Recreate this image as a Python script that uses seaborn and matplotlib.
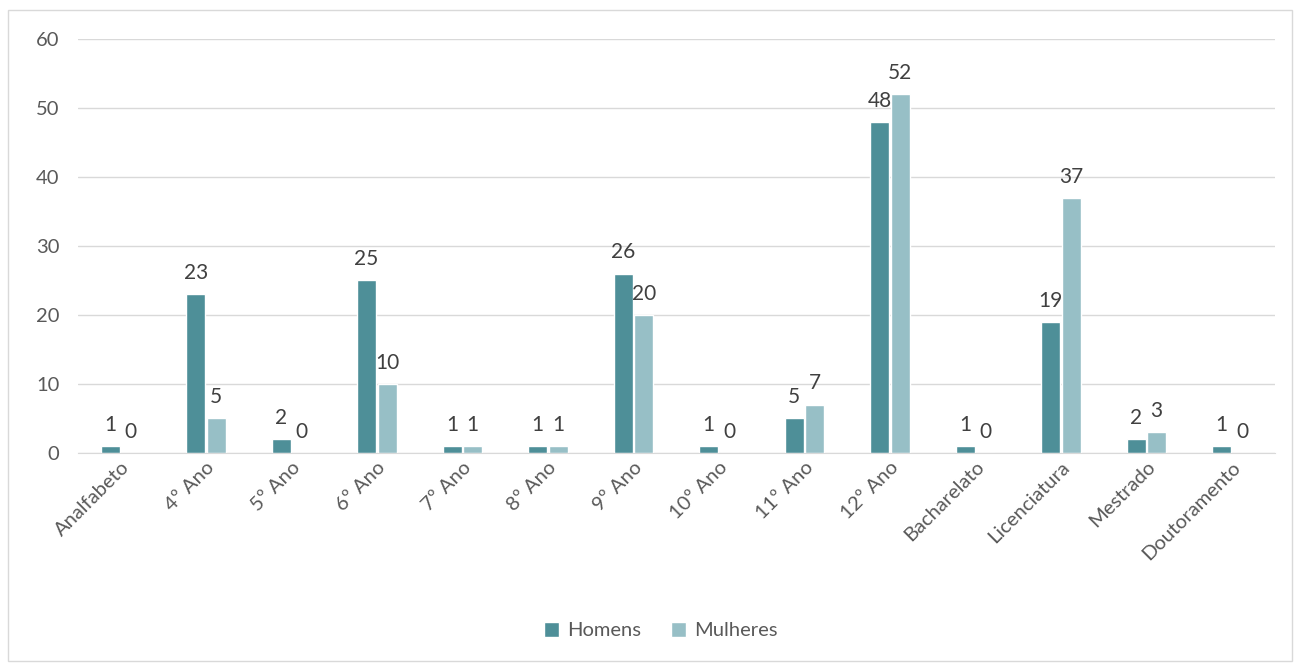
import pandas as pd
import seaborn as sns
import matplotlib.pyplot as plt
from matplotlib.patches import Rectangle

# Data
categories = ["Analfabeto", "4º Ano", "5º Ano", "6º Ano", "7º Ano", "8º Ano", "9º Ano",
              "10º Ano", "11º Ano", "12º Ano", "Bacharelato", "Licenciatura", "Mestrado",
              "Doutoramento"]
homens = [1, 23, 2, 25, 1, 1, 26, 1, 5, 48, 1, 19, 2, 1]
mulheres = [0, 5, 0, 10, 1, 1, 20, 0, 7, 52, 0, 37, 3, 0]

df = pd.DataFrame({
    "categoria": categories * 2,
    "valor": homens + mulheres,
    "sexo": ["Homens"] * len(categories) + ["Mulheres"] * len(categories),
})

sns.set_style("white")
plt.rcParams["font.family"] = ["Lato", "DejaVu Sans"]
TEXT = "#595959"

fig = plt.figure(figsize=(12.94, 6.63), dpi=100)
ax = fig.add_axes([0.060, 0.317, 0.925, 0.624])

sns.barplot(data=df, x="categoria", y="valor", hue="sexo", order=categories,
            palette=["#4E8F98", "#97BFC6"], saturation=1, width=0.48, gap=0.08, ax=ax)

for cont in ax.containers:
    ax.bar_label(cont, padding=8, fontsize=15, color="#404040")

ax.set_ylim(0, 60)
ax.set_yticks(range(0, 61, 10))
ax.set_xlim(-0.5, len(categories) - 0.5)
ax.yaxis.grid(True, color="#D9D9D9", linewidth=1)
ax.set_axisbelow(True)
for s in ["top", "right", "left"]:
    ax.spines[s].set_visible(False)
ax.spines["bottom"].set_color("#D9D9D9")
ax.set_xlabel("")
ax.set_ylabel("")
ax.tick_params(axis="y", length=0, labelsize=14.5, labelcolor=TEXT, pad=13)
ax.tick_params(axis="x", length=0, labelsize=14.5, labelcolor=TEXT, pad=4)
plt.setp(ax.get_xticklabels(), rotation=45, ha="right", rotation_mode="anchor")

leg = ax.legend(loc="center", bbox_to_anchor=(0.487, -0.43), ncol=2, frameon=False,
                fontsize=14.5, handlelength=0.75, handleheight=0.75, columnspacing=1.5,
                handletextpad=0.4)
for t in leg.get_texts():
    t.set_color(TEXT)

fig.patches.append(Rectangle((8 / 1294, 2 / 663), 1284 / 1294, 651 / 663,
                             transform=fig.transFigure, fill=False,
                             edgecolor="#D9D9D9", linewidth=1))

fig.savefig("out.png", dpi=100)
